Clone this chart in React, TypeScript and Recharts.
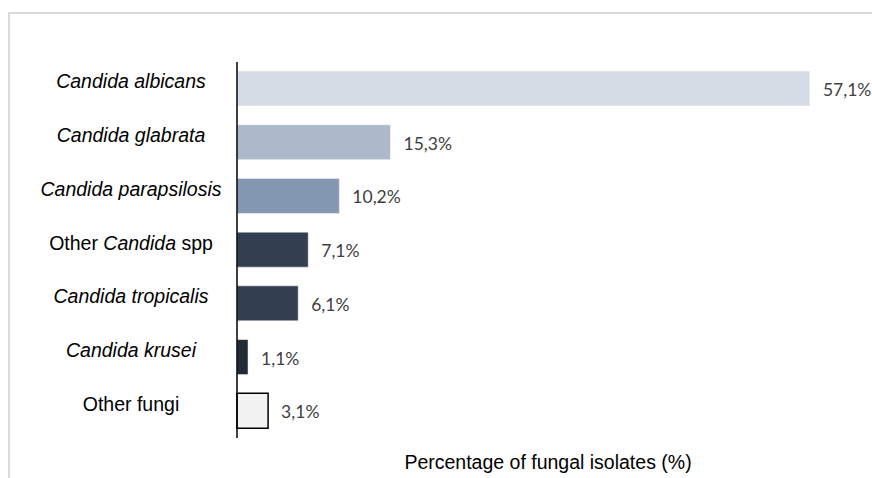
import { Bar, BarChart, Cell, LabelList, XAxis, YAxis } from 'recharts';

/*
 * Distribuição das espécies entre os isolados fúngicos (barras horizontais).
 */

const SPECIES = [
  'Candida albicans',
  'Candida glabrata',
  'Candida parapsilosis',
  'Other Candida spp',
  'Candida tropicalis',
  'Candida krusei',
  'Other fungi',
];

const PERCENTS = [57.1, 15.3, 10.2, 7.1, 6.1, 1.1, 3.1];

const BAR_COLORS = ['#d6dce5', '#adb9ca', '#8497b0', '#333f50', '#333f50', '#222a35', '#f2f2f2'];

const X_DOMAIN: [number, number] = [0, 60];

const AXIS_TITLE = 'Percentage of fungal isolates (%)';

const data = SPECIES.map((name, i) => ({ name, pct: PERCENTS[i] }));

const LABEL_FONT = '"Liberation Sans", Arial, sans-serif';

function SpeciesTick(props: any) {
  const { y, payload } = props;
  const name: string = payload.value;
  // "Other Candida spp" mistura texto normal e itálico
  let parts: Array<{ t: string; it: boolean }>;
  if (name.startsWith('Candida')) parts = [{ t: name, it: true }];
  else if (name === 'Other Candida spp')
    parts = [
      { t: 'Other ', it: false },
      { t: 'Candida', it: true },
      { t: ' spp', it: false },
    ];
  else parts = [{ t: name, it: false }];
  return (
    <text
      x={131}
      y={y - 0.5}
      textAnchor="middle"
      fontSize={19.5}
      fontFamily={LABEL_FONT}
      fill="#000"
    >
      {parts.map((p, i) => (
        <tspan key={i} fontStyle={p.it ? 'italic' : 'normal'}>
          {p.t}
        </tspan>
      ))}
    </text>
  );
}

function ValueLabel(props: any) {
  const { x, y, width, height, value } = props;
  return (
    <text
      x={x + width + 13}
      y={y + height / 2 + 7.5}
      fontSize={17.5}
      fontFamily="Lato, 'Open Sans', sans-serif"
      fill="#404040"
    >
      {Number(value).toFixed(1).replace('.', ',')}%
    </text>
  );
}

export default function App() {
  return (
    <div style={{ position: 'absolute', left: 0, top: 0, width: 872, height: 478, background: '#fff' }}>
      <div
        style={{
          position: 'absolute',
          left: 8,
          top: 12,
          right: 0,
          bottom: 0,
          borderTop: '2px solid #d9d9d9',
          borderLeft: '2px solid #d9d9d9',
        }}
      />
      <BarChart
        width={872}
        height={478}
        data={data}
        layout="vertical"
        margin={{ top: 62, right: 33, bottom: 0, left: 0 }}
        style={{ position: 'absolute', left: 0, top: 0 }}
      >
        <XAxis
          type="number"
          domain={X_DOMAIN}
          height={40}
          tick={false}
          tickLine={false}
          axisLine={false}
          label={{
            value: AXIS_TITLE,
            position: 'insideBottom',
            offset: 9,
            dx: 10,
            fontSize: 19.5,
            fontFamily: LABEL_FONT,
            fill: '#000',
          }}
        />
        <YAxis
          type="category"
          dataKey="name"
          width={237}
          tick={<SpeciesTick />}
          tickLine={false}
          axisLine={{ stroke: '#000', strokeWidth: 1.5 }}
          interval={0}
        />
        <Bar dataKey="pct" barSize={35} isAnimationActive={false}>
          {data.map((d, i) => (
            <Cell
              key={d.name}
              fill={BAR_COLORS[i]}
              stroke={d.name === 'Other fungi' ? '#000' : '#ffffff'}
              strokeWidth={d.name === 'Other fungi' ? 1.5 : 0.5}
            />
          ))}
          <LabelList dataKey="pct" content={<ValueLabel />} />
        </Bar>
      </BarChart>
    </div>
  );
}
